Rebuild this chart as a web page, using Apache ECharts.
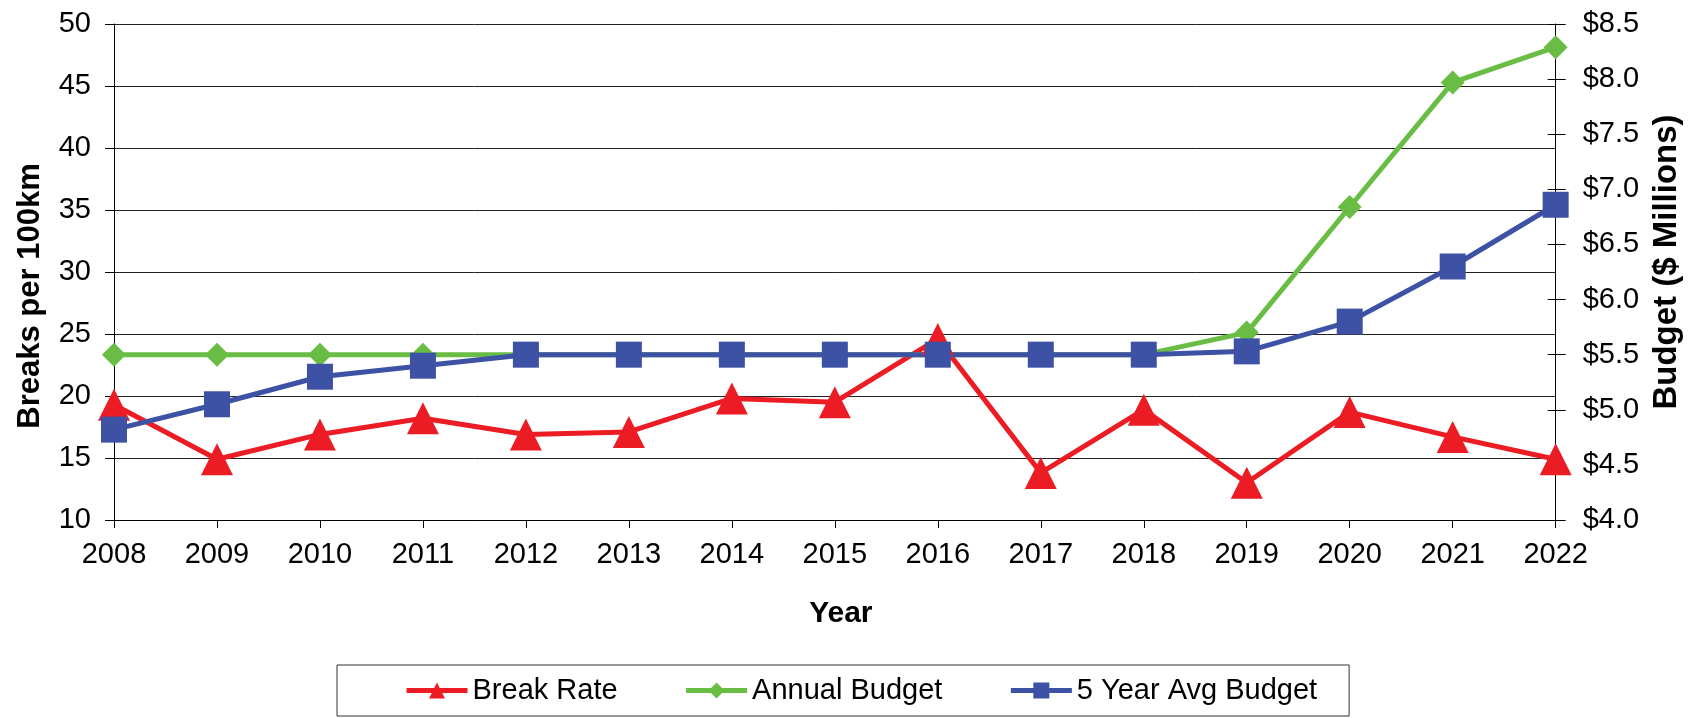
<!DOCTYPE html>
<html>
<head>
<meta charset="utf-8">
<script src="https://cdn.jsdelivr.net/npm/echarts@6/dist/echarts.min.js"></script>
<style>
  html, body { margin: 0; padding: 0; background: #fff; }
  #chart { width: 1691px; height: 718px; }
</style>
</head>
<body>
<div id="chart"></div>
<script>
let years = ["2008","2009","2010","2011","2012","2013","2014","2015","2016","2017","2018","2019","2020","2021","2022"];
// breaks per 100km (left axis)
let breakRate = [19.3, 14.9, 16.9, 18.2, 16.9, 17.1, 19.8, 19.5, 24.6, 13.8, 18.9, 13.0, 18.7, 16.7, 14.9];
// $ millions (right axis)
let annualBudget = [5.5, 5.5, 5.5, 5.5, 5.5, 5.5, 5.5, 5.5, 5.5, 5.5, 5.5, 5.7, 6.84, 7.97, 8.29];
let avgBudget = [4.82, 5.05, 5.3, 5.4, 5.5, 5.5, 5.5, 5.5, 5.5, 5.5, 5.5, 5.53, 5.8, 6.3, 6.86];

let font = "'Liberation Sans', Arial, sans-serif";
let chart = echarts.init(document.getElementById("chart"));

let opt = {
	animation: false,
	textStyle: { fontFamily: font },
	grid: { left: 114, right: 128, top: 24, bottom: 198, containLabel: false },
	legend: {
		data: ["Break Rate", "Annual Budget", "5 Year Avg Budget"],
		left: 337,
		top: 665,
		itemWidth: 61,
		itemHeight: 20,
		itemGap: 66,
		padding: [11, 32, 11, 67],
		borderColor: "#333",
		borderWidth: 1,
		lineStyle: { width: 5 },
		textStyle: { fontSize: 29, color: "#000" }
	},
	xAxis: {
		type: "category",
		data: years,
		boundaryGap: false,
		name: "Year",
		nameLocation: "middle",
		nameGap: 79,
		nameTextStyle: { fontSize: 30, fontWeight: "bold", color: "#000", padding: [0, 0, 0, 12] },
		axisLine: { lineStyle: { color: "#000", width: 1 } },
		axisTick: { show: true, length: 8, lineStyle: { color: "#000" } },
		axisLabel: { fontSize: 29, color: "#000", margin: 20 }
	},
	yAxis: [
		{
			type: "value",
			min: 10, max: 50, interval: 5,
			name: "Breaks per 100km",
			nameLocation: "middle",
			nameGap: 68,
			nameTextStyle: { fontSize: 31, fontWeight: "bold", color: "#000", padding: [0, 48, 0, 0] },
			axisLine: { show: true, lineStyle: { color: "#000" } },
			axisTick: { show: true, length: 9, lineStyle: { color: "#000" } },
			axisLabel: { fontSize: 29, color: "#000", margin: 23 },
			splitLine: { show: true, lineStyle: { color: "#222", width: 1 } }
		},
		{
			type: "value",
			position: "right",
			min: 4, max: 8.5, interval: 0.5,
			name: "Budget ($ Millions)",
			nameLocation: "middle",
			nameGap: 91,
			nameRotate: 90,
			nameTextStyle: { fontSize: 33, fontWeight: "bold", color: "#000", padding: [0, 0, 0, 20] },
			axisLine: { show: true, lineStyle: { color: "#000" } },
			axisTick: { show: true, length: 10, lineStyle: { color: "#000" } },
			axisLabel: { fontSize: 29, color: "#000", margin: 27, formatter: v => "$" + v.toFixed(1) },
			splitLine: { show: false }
		},
		{
			// inner half of the crossing ticks on the right axis
			type: "value",
			position: "right",
			min: 4, max: 8.5, interval: 0.5,
			axisLine: { show: false },
			axisTick: { show: true, inside: true, length: 8, lineStyle: { color: "#000" } },
			axisLabel: { show: false },
			splitLine: { show: false }
		}
	],
	series: [
		{
			name: "Break Rate",
			type: "line",
			yAxisIndex: 0,
			data: breakRate,
			symbol: "triangle",
			symbolSize: 32,
			color: "#EC1C24",
			lineStyle: { width: 5, color: "#EC1C24" },
			itemStyle: { color: "#EC1C24" }
		},
		{
			name: "Annual Budget",
			type: "line",
			yAxisIndex: 1,
			data: annualBudget,
			symbol: "diamond",
			symbolSize: 24,
			color: "#69BD44",
			lineStyle: { width: 5, color: "#69BD44" },
			itemStyle: { color: "#69BD44" }
		},
		{
			name: "5 Year Avg Budget",
			type: "line",
			yAxisIndex: 1,
			data: avgBudget,
			symbol: "rect",
			symbolSize: 26,
			color: "#3D51A5",
			lineStyle: { width: 5, color: "#3D51A5" },
			itemStyle: { color: "#3D51A5" }
		}
	]
};
chart.setOption(opt);
</script>
</body>
</html>
